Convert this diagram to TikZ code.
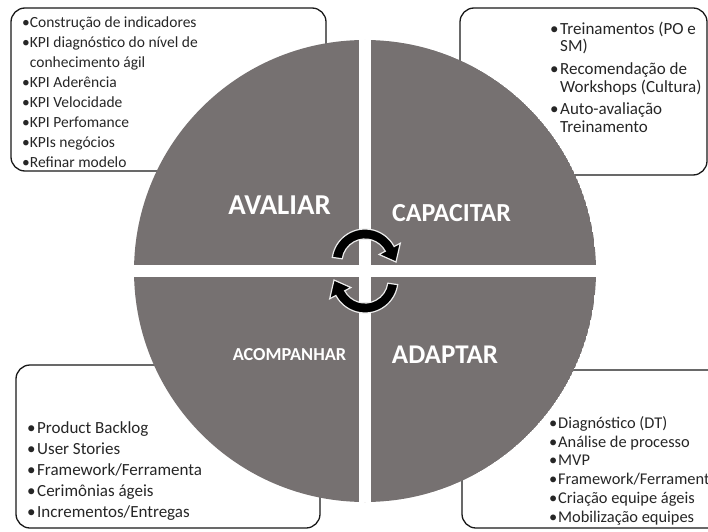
\documentclass[tikz,border=0pt]{standalone}
\usepackage{fontspec}
\setmainfont{Carlito}
\usepackage{xcolor}
\usepackage{tikz}
\definecolor{quadgray}{RGB}{118,113,113}
\definecolor{txtgray}{RGB}{38,38,38}
\newcommand{\bul}[1]{\makebox[#1][l]{\textbullet}}

\begin{document}
\begin{tikzpicture}[x=1pt,y=1pt,
    caixa/.style={draw=black!90,line width=1.3pt,rounded corners=14pt,fill=white},
    lista/.style={anchor=base west,align=left,inner sep=0pt,text=txtgray},
    rotulo/.style={text=white,inner sep=0pt},
    seta/.style={fill=black,draw=white!85!gray,line width=1.2pt}]
\useasboundingbox (0,0) rectangle (708,531);

% caixas de texto
\draw[caixa] (11,360) rectangle (326,523);
\draw[caixa] (460,356) rectangle (707,523);
\draw[caixa] (16,3) rectangle (320,166);
\draw[caixa] (462,3) rectangle (730,161);

% listas (ancoradas na linha de base da ultima linha)
\node[lista,font=\fontsize{15.5}{19.9}\selectfont] (avaliar-lista) at (22,364)
    {\textbullet Construção de indicadores\\
     \textbullet KPI diagnóstico do nível de\\
     \hphantom{\textbullet}conhecimento ágil\\
     \textbullet KPI Aderência\\
     \textbullet KPI Velocidade\\
     \textbullet KPI Perfomance\\
     \textbullet KPIs negócios\\
     \textbullet Refinar modelo};

\node[lista,font=\fontsize{17}{17.5}\selectfont] (capacitar-lista) at (550,399)
    {\bul{10pt}Treinamentos (PO e\\
     \hspace*{10pt}SM)\\[5pt]
     \bul{10pt}Recomendação de\\
     \hspace*{10pt}Workshops (Cultura)\\[5pt]
     \bul{10pt}Auto-avaliação\\
     \hspace*{10pt}Treinamento};

\node[lista,font=\fontsize{17}{21}\selectfont] (acompanhar-lista) at (27,14)
    {\bul{10pt}Product Backlog\\
     \bul{10pt}User Stories\\
     \bul{10pt}Framework/Ferramenta\\
     \bul{10pt}Cerimônias ágeis\\
     \bul{10pt}Incrementos/Entregas};

\node[lista,font=\fontsize{16.4}{18.7}\selectfont] (adaptar-lista) at (549,9)
    {\bul{9pt}Diagnóstico (DT)\\
     \bul{9pt}Análise de processo\\
     \bul{9pt}MVP\\
     \bul{9pt}Framework/Ferramenta\\
     \bul{9pt}Criação equipe ágeis\\
     \bul{9pt}Mobilização equipes};

% circulo em quatro partes
\begin{scope}
  \clip (365,260) circle (231);
  \fill[quadgray] (365,260) circle (231);
  \fill[white] (359,0) rectangle (371,531);
  \fill[white] (0,254) rectangle (708,266);
\end{scope}

\node[rotulo,font=\bfseries\fontsize{28.8}{28.8}\selectfont] (avaliar) at (279.5,326) {AVALIAR};
\node[rotulo,font=\bfseries\fontsize{26}{26}\selectfont] (capacitar) at (451.5,318) {CAPACITAR};
\node[rotulo,font=\bfseries\fontsize{18.3}{18.3}\selectfont] (acompanhar) at (289.5,176) {ACOMPANHAR};
\node[rotulo,font=\bfseries\fontsize{27}{27}\selectfont] (adaptar) at (445,176) {ADAPTAR};

% setas circulares
\begin{scope}[shift={(365,269)}]
  \filldraw[seta] (172:33) arc[start angle=172,end angle=28,radius=33]
    -- (28:40) -- (0:31) -- (28:16) -- (28:23)
    arc[start angle=28,end angle=172,radius=23] -- cycle;
\end{scope}
\begin{scope}[shift={(365,251)},rotate=180]
  \filldraw[seta] (172:33) arc[start angle=172,end angle=28,radius=33]
    -- (28:40) -- (0:31) -- (28:16) -- (28:23)
    arc[start angle=28,end angle=172,radius=23] -- cycle;
\end{scope}
\end{tikzpicture}
\end{document}
